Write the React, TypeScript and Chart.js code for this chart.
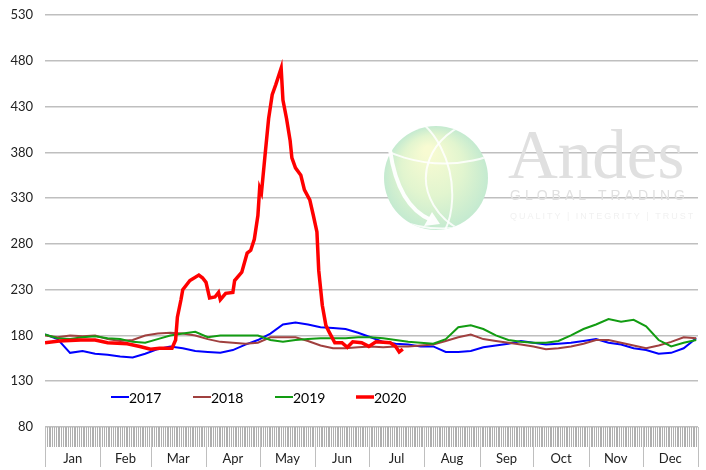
import React, { useEffect, useRef } from 'react';
import { Chart, registerables } from 'chart.js';

Chart.register(...registerables);

const months = ['Jan', 'Feb', 'Mar', 'Apr', 'May', 'Jun', 'Jul', 'Aug', 'Sep', 'Oct', 'Nov', 'Dec'];
const monthStarts = [0, 31, 59, 90, 120, 151, 181, 212, 243, 273, 304, 334, 365];
const yTicks = [80, 130, 180, 230, 280, 330, 380, 430, 480, 530];
const seriesNames = ['2017', '2018', '2019', '2020'];
const seriesColors = ['#0000ff', '#a0403f', '#129c12', '#ff0000'];

const weekDays = [0, 7, 14, 21, 28, 35, 42, 49, 56, 63, 70, 77, 84, 91, 98, 105, 112, 119, 126, 133, 140, 147, 154, 161, 168, 175, 182, 189, 196, 203, 210, 217, 224, 231, 238, 245, 252, 259, 266, 273, 280, 287, 294, 301, 308, 315, 322, 329, 336, 343, 350, 357, 364];

const values2017 = [181, 176, 161, 163, 160, 159, 157, 156, 160, 165, 168, 166, 163, 162, 161, 164, 170, 175, 182, 192, 194, 192, 189, 188, 187, 183, 178, 173, 171, 170, 168, 168, 162, 162, 163, 167, 169, 171, 174, 172, 170, 171, 172, 174, 176, 172, 170, 166, 164, 160, 161, 166, 177];
const values2018 = [180, 178, 180, 179, 180, 176, 174, 175, 180, 182, 183, 182, 180, 176, 173, 172, 171, 172, 178, 178, 178, 174, 169, 166, 166, 167, 168, 167, 168, 168, 169, 170, 174, 178, 181, 176, 174, 172, 170, 168, 165, 166, 168, 171, 175, 175, 172, 169, 166, 169, 173, 178, 177];
const values2019 = [181, 177, 176, 178, 179, 177, 176, 173, 172, 176, 180, 182, 184, 178, 180, 180, 180, 180, 175, 173, 175, 176, 177, 177, 177, 178, 178, 177, 175, 173, 172, 171, 176, 189, 191, 187, 180, 175, 173, 172, 172, 174, 180, 187, 192, 198, 195, 197, 190, 175, 168, 172, 175];

const days2020 = [0, 8, 20, 28, 35, 46, 53, 59, 64, 71, 73, 74, 76, 77, 81, 86, 88, 90, 92, 95, 97, 98, 101, 105, 106, 110, 113, 115, 117, 119, 120, 121, 123, 125, 127, 129, 132, 133, 135, 137, 138, 140, 143, 145, 148, 150, 152, 153, 155, 157, 159, 162, 166, 169, 172, 177, 181, 185, 193, 196, 198, 200];
const values2020 = [172, 174, 175, 175, 172, 171, 168, 165, 166, 166, 175, 200, 219, 230, 240, 246, 243, 238, 221, 222, 227, 219, 226, 227, 240, 249, 270, 273, 285, 311, 341, 336, 377, 417, 443, 454, 472, 437, 417, 393, 374, 363, 355, 339, 328, 311, 293, 251, 213, 191, 183, 172, 172, 167, 173, 172, 168, 173, 172, 168, 162, 165];

const FONT = 'Lato, "Noto Sans", sans-serif';

const bandPlugin = {
  id: 'dateBand',
  afterDraw(chart: any) {
    const { ctx, chartArea } = chart;
    const x = chart.scales.x;
    const top = chartArea.bottom;
    ctx.save();
    ctx.lineWidth = 1;
    ctx.strokeStyle = '#b0b0b0';
    ctx.beginPath();
    for (let d = 0; d <= 365; d++) {
      const px = Math.round(x.getPixelForValue(d)) + 0.5;
      ctx.moveTo(px, top);
      ctx.lineTo(px, top + 20);
    }
    ctx.stroke();
    ctx.strokeStyle = '#bfbfbf';
    ctx.beginPath();
    for (const ms of monthStarts) {
      const px = Math.round(x.getPixelForValue(ms)) + 0.5;
      ctx.moveTo(px, top);
      ctx.lineTo(px, top + 40);
    }
    ctx.stroke();
    ctx.restore();
  },
};

const watermarkPlugin = {
  id: 'watermark',
  beforeDatasetsDraw(chart: any) {
    const { ctx } = chart;
    const cx = 436, cy = 178, r = 52;
    ctx.save();
    const g = ctx.createRadialGradient(cx - 8, cy - 28, 4, cx, cy, r);
    g.addColorStop(0, '#f8fbd2');
    g.addColorStop(0.55, '#e2f5cf');
    g.addColorStop(1, '#c4ead0');
    ctx.fillStyle = g;
    ctx.beginPath();
    ctx.arc(cx, cy, r, 0, Math.PI * 2);
    ctx.fill();
    ctx.save();
    ctx.beginPath();
    ctx.arc(cx, cy, r, 0, Math.PI * 2);
    ctx.clip();
    ctx.strokeStyle = 'rgba(255,255,255,0.85)';
    ctx.lineWidth = 2;
    ctx.beginPath();
    ctx.ellipse(cx - 30, cy + 5, 45, 70, -0.2, -1.2, 1.2);
    ctx.stroke();
    ctx.beginPath();
    ctx.ellipse(cx + 60, cy, 70, 60, 0, Math.PI * 0.6, Math.PI * 1.4);
    ctx.stroke();
    ctx.beginPath();
    ctx.ellipse(cx, cy - 70, 90, 55, 0.1, 0.3, Math.PI - 0.3);
    ctx.stroke();
    ctx.beginPath();
    ctx.ellipse(cx, cy - 10, 90, 60, 0.1, 0.4, Math.PI - 0.4);
    ctx.stroke();
    ctx.restore();
    ctx.strokeStyle = 'rgba(255,255,255,0.95)';
    ctx.lineWidth = 4;
    ctx.beginPath();
    ctx.moveTo(cx - 46, cy - 28);
    ctx.quadraticCurveTo(cx - 38, cy + 28, cx - 5, cy + 42);
    ctx.stroke();
    ctx.fillStyle = 'rgba(255,255,255,0.95)';
    ctx.beginPath();
    ctx.moveTo(cx + 4, cy + 46);
    ctx.lineTo(cx - 12, cy + 48);
    ctx.lineTo(cx - 4, cy + 34);
    ctx.closePath();
    ctx.fill();

    ctx.fillStyle = '#e0e0e0';
    ctx.textAlign = 'left';
    ctx.textBaseline = 'alphabetic';
    ctx.font = '69px "Liberation Serif", serif';
    ctx.fillText('Andes', 508, 178);
    ctx.fillStyle = '#e0e0e0';
    ctx.font = '14px "Liberation Sans", sans-serif';
    (ctx as any).letterSpacing = '4px';
    ctx.fillText('GLOBAL TRADING', 510, 200);
    ctx.fillStyle = '#f1f1f1';
    ctx.font = '9px "Liberation Sans", sans-serif';
    (ctx as any).letterSpacing = '2px';
    ctx.fillText('QUALITY | INTEGRITY | TRUST', 510, 219);
    ctx.restore();
  },
};

const legendPlugin = {
  id: 'innerLegend',
  afterDatasetsDraw(chart: any) {
    const { ctx, chartArea } = chart;
    const y = chartArea.top + 382;
    const offsets = [66, 148, 230, 311];
    ctx.save();
    ctx.font = '14px ' + FONT;
    ctx.textBaseline = 'middle';
    ctx.textAlign = 'left';
    seriesNames.forEach((name, i) => {
      const x0 = chartArea.left + offsets[i];
      ctx.strokeStyle = seriesColors[i];
      ctx.lineWidth = i === 3 ? 3.5 : 2;
      ctx.beginPath();
      ctx.moveTo(x0, y);
      ctx.lineTo(x0 + 18, y);
      ctx.stroke();
      ctx.fillStyle = '#000';
      ctx.fillText(name, x0 + 18, y + 1);
    });
    ctx.restore();
  },
};

function toPoints(days: number[], vals: number[]) {
  return days.map((d, i) => ({ x: d, y: vals[i] }));
}

export default function App() {
  const ref = useRef<HTMLCanvasElement | null>(null);
  useEffect(() => {
    if (!ref.current) return;
    const allValues = [values2017, values2018, values2019];
    const datasets: any[] = allValues.map((vals, i) => ({
      label: seriesNames[i],
      data: toPoints(weekDays, vals),
      borderColor: seriesColors[i],
      backgroundColor: seriesColors[i],
      borderWidth: 2,
      pointRadius: 0,
      tension: 0,
      order: 3 - i,
    }));
    datasets.push({
      label: seriesNames[3],
      data: toPoints(days2020, values2020),
      borderColor: seriesColors[3],
      backgroundColor: seriesColors[3],
      borderWidth: 3.5,
      pointRadius: 0,
      tension: 0,
      order: 0,
    });
    const chart = new Chart(ref.current, {
      type: 'line',
      data: { datasets },
      plugins: [watermarkPlugin, bandPlugin, legendPlugin],
      options: {
        animation: false,
        responsive: false,
        devicePixelRatio: 1,
        layout: { padding: { left: 0, top: 15, right: 8, bottom: 0 } },
        plugins: { legend: { display: false }, tooltip: { enabled: false } },
        scales: {
          x: {
            type: 'linear',
            min: 0,
            max: 365,
            grid: { display: false, drawTicks: false },
            border: { display: false },
            afterBuildTicks: (axis: any) => {
              axis.ticks = months.map((m, i) => ({ value: (monthStarts[i] + monthStarts[i + 1]) / 2 }));
            },
            afterFit: (axis: any) => {
              axis.height = 43;
              axis.paddingLeft = 0;
              axis.paddingRight = 0;
            },
            ticks: {
              autoSkip: false,
              maxRotation: 0,
              padding: 24,
              color: '#222',
              font: { family: FONT, size: 13 },
              callback: (_v: any, i: number) => months[i],
            },
          },
          y: {
            min: 80,
            max: 530,
            grid: { color: '#bfbfbf', lineWidth: 1.5, drawTicks: false },
            border: { display: false },
            afterBuildTicks: (axis: any) => {
              axis.ticks = yTicks.map((v) => ({ value: v }));
            },
            afterFit: (axis: any) => {
              axis.width = 45;
              axis.paddingTop = 0;
              axis.paddingBottom = 0;
            },
            ticks: {
              padding: 12,
              color: '#222',
              font: { family: FONT, size: 13 },
            },
          },
        },
      },
    });
    return () => chart.destroy();
  }, []);
  return (
    <div style={{ position: 'absolute', left: 0, top: 0, width: 706, height: 470, background: '#fff' }}>
      <canvas ref={ref} width={706} height={470} />
    </div>
  );
}
